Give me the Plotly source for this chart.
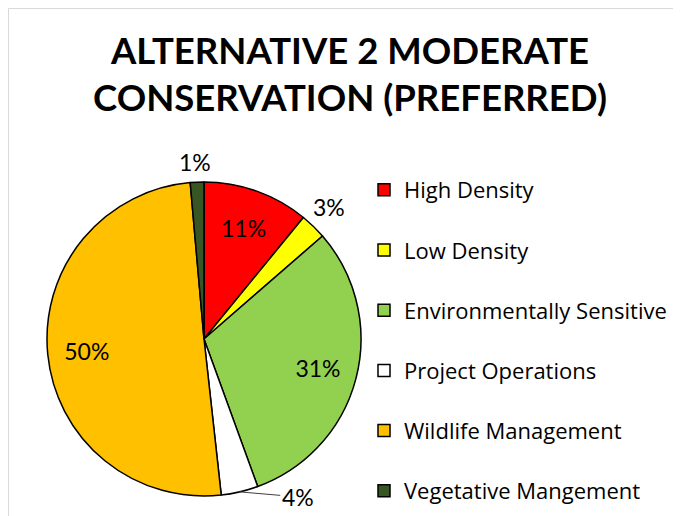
import math
import plotly.graph_objects as go

categories = ["High Density", "Low Density", "Environmentally Sensitive",
              "Project Operations", "Wildlife Management", "Vegetative Mangement"]
values = [10.9, 2.7, 30.8, 3.8, 50.3, 1.4]
colors = ["#FF0000", "#FFFF00", "#92D050", "#FFFFFF", "#FFC000", "#375623"]
inside_pos = ["inside", "none", "inside", "none", "inside", "none"]
title_lines = ["ALTERNATIVE 2 MODERATE", "CONSERVATION (PREFERRED)"]

# the page body adds an 8px margin, so the figure is 8px smaller than the window
W, H = 673, 508
FONT = "Lato, 'Open Sans', sans-serif"
LEG_FONT = "'Open Sans', Lato, sans-serif"
dom_x = [39 / W, 353 / W]
dom_y = [20 / H, 334 / H]
domain = dict(x=dom_x, y=dom_y)

legend_labels = [c + ("<br>&nbsp;" if i < len(categories) - 1 else "")
                 for i, c in enumerate(categories)]

fig = go.Figure()
fig.add_trace(go.Pie(
    labels=legend_labels,
    values=values,
    sort=False,
    direction="clockwise",
    rotation=0,
    marker=dict(colors=colors, line=dict(color="#000000", width=1.5)),
    textinfo="none",
    domain=domain,
    hoverinfo="label+percent",
    automargin=False,
))
# transparent ring on top: places the inside labels out toward the rim
fig.add_trace(go.Pie(
    labels=legend_labels,
    values=values,
    sort=False,
    direction="clockwise",
    rotation=0,
    hole=0.5,
    marker=dict(colors=["rgba(0,0,0,0)"] * len(values),
                line=dict(color="rgba(0,0,0,0)", width=0)),
    textposition=inside_pos,
    texttemplate="%{percent:.0%}",
    insidetextorientation="horizontal",
    textfont=dict(family=FONT, size=23, color="#000000"),
    domain=domain,
    hoverinfo="skip",
    showlegend=False,
    automargin=False,
))

# outside labels for the small slices, anchored at each slice's mid-angle on the rim
total = sum(values)
cx = (dom_x[0] + dom_x[1]) / 2
cy = (dom_y[0] + dom_y[1]) / 2
r_px = (dom_x[1] - dom_x[0]) * W / 2
# slice index -> (label offset in px, leader line?)
outside_style = {1: ((16, -19), False), 3: ((58, 5), True), 5: ((-2, -20), False)}
annotations = []
for i, ((ox, oy), leader) in outside_style.items():
    start = sum(values[:i]) / total * 360
    mid = math.radians(start + values[i] / total * 180)
    tx = cx + r_px * math.sin(mid) / W
    ty = cy + r_px * math.cos(mid) / H
    text = f"{round(values[i] / total * 100)}%"
    font = dict(family=FONT, size=23, color="#000000")
    if leader:
        annotations.append(dict(
            x=tx, y=ty, xref="paper", yref="paper", text=text,
            showarrow=True, arrowhead=0, arrowcolor="#404040", arrowwidth=1,
            ax=ox, ay=oy, xanchor="center", yanchor="middle", font=font))
    else:
        annotations.append(dict(
            x=tx, y=ty, xref="paper", yref="paper", text=text,
            showarrow=False, xshift=ox, yshift=-oy,
            xanchor="center", yanchor="middle", font=font))

fig.update_layout(
    width=W, height=H,
    margin=dict(l=0, r=0, t=0, b=0),
    paper_bgcolor="#FFFFFF",
    plot_bgcolor="#FFFFFF",
    font=dict(family=FONT, color="#000000"),
    title=dict(
        text="<br>".join(title_lines),
        x=342 / W, xanchor="center",
        y=1 - 55.5 / H, yanchor="middle",
        font=dict(family=FONT, size=36.5, color="#000000", weight="bold"),
    ),
    legend=dict(
        x=356 / W, xanchor="left",
        y=4 / H, yanchor="bottom",
        valign="top",
        font=dict(family=LEG_FONT, size=22, color="#000000"),
        bgcolor="rgba(0,0,0,0)",
        itemclick=False, itemdoubleclick=False,
    ),
    showlegend=True,
    annotations=annotations,
    shapes=[dict(
        type="rect", xref="paper", yref="paper",
        x0=0.5 / W, x1=1.2, y0=-0.2, y1=1 - 0.5 / H,
        line=dict(color="#D9D9D9", width=1), fillcolor="rgba(0,0,0,0)",
        layer="below",
    )],
)

fig.write_html("out.html")
